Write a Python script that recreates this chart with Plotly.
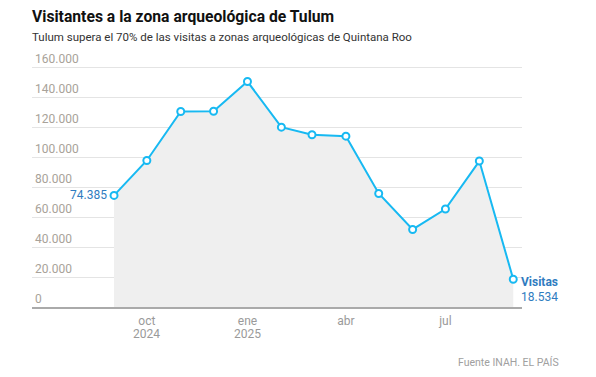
import plotly.graph_objects as go

months = ["2024-09-01", "2024-10-01", "2024-11-01", "2024-12-01", "2025-01-01",
          "2025-02-01", "2025-03-01", "2025-04-01", "2025-05-01", "2025-06-01",
          "2025-07-01", "2025-08-01", "2025-09-01"]
visitas = [74385, 97700, 130300, 130500, 150300, 119900, 114800, 113900,
           75700, 51700, 65300, 97300, 18534]
tick_vals = ["2024-10-01", "2025-01-01", "2025-04-01", "2025-07-01"]
tick_text = ["oct", "ene", "abr", "jul"]
year_vals = ["2024-10-01", "2025-01-01"]
year_text = ["2024", "2025"]
y_ticks = [0, 20000, 40000, 60000, 80000, 100000, 120000, 140000, 160000]

FONT = "Roboto, Arial, sans-serif"
LINE = "#17b9f2"
BLUE = "#2f7cc0"
GRAY = "#9a9a9a"

fig = go.Figure()
fig.add_trace(go.Scatter(
    x=months, y=visitas, mode="lines+markers",
    line=dict(color=LINE, width=2),
    marker=dict(size=7, color="white", line=dict(color=LINE, width=2)),
    fill="tozeroy", fillcolor="#efefef",
    hoverinfo="skip", showlegend=False,
))

fig.add_annotation(x=months[0], y=visitas[0], text=f"{visitas[0]:,}".replace(",", "."),
                   xanchor="right", yanchor="middle", xshift=-5, showarrow=False,
                   font=dict(family=FONT, size=12, color=BLUE))
fig.add_annotation(x=months[-1], y=visitas[-1], text="<b>Visitas</b>",
                   xanchor="left", yanchor="middle", xshift=6, yshift=-3, showarrow=False,
                   font=dict(family=FONT, size=12, color=BLUE))
fig.add_annotation(x=months[-1], y=visitas[-1], text=f"{visitas[-1]:,}".replace(",", "."),
                   xanchor="left", yanchor="middle", xshift=6, yshift=-18, showarrow=False,
                   font=dict(family=FONT, size=12, color=BLUE))

for xv, yt in zip(year_vals, year_text):
    fig.add_annotation(x=xv, xref="x", yref="paper", y=0, text=yt,
                       xanchor="center", yanchor="middle", yshift=-27, showarrow=False,
                       font=dict(family=FONT, size=12, color=GRAY))

fig.add_annotation(xref="paper", yref="paper", x=0.0, y=1.0,
                   text="<b>Visitantes a la zona arqueológica de Tulum</b>",
                   xanchor="left", yanchor="middle", showarrow=False, xshift=-2, yshift=27,
                   font=dict(family=FONT, size=15.7, color="#111"))
fig.add_annotation(xref="paper", yref="paper", x=0.0, y=1.0,
                   text="Tulum supera el 70% de las visitas a zonas arqueológicas de Quintana Roo",
                   xanchor="left", yanchor="middle", showarrow=False, xshift=-2, yshift=6,
                   font=dict(family=FONT, size=11.5, color="#333"))
fig.add_annotation(xref="paper", yref="paper", x=1.0, y=0, text="Fuente INAH. EL PAÍS",
                   xanchor="right", yanchor="middle", showarrow=False, xshift=39, yshift=-55,
                   font=dict(family=FONT, size=10.5, color="#a0a0a0"))

# page body has an 8px margin: figure placed at (8, 8)
fig.update_layout(
    width=580, height=361,
    margin=dict(l=24, r=66, t=35, b=62, autoexpand=False),
    paper_bgcolor="white", plot_bgcolor="white",
    separators=",.",
    font=dict(family=FONT),
    xaxis=dict(
        type="date", range=["2024-06-18", "2025-09-09"],
        tickvals=tick_vals, ticktext=tick_text, automargin=False,
        showgrid=False, showline=True, linecolor="#aaaaaa", linewidth=2,
        ticks="", tickfont=dict(family=FONT, size=12, color=GRAY),
        ticklabelstandoff=2,
        zeroline=False, fixedrange=True,
    ),
    yaxis=dict(
        range=[0, 176000], tickvals=y_ticks, tickformat=",d", automargin=False,
        showgrid=True, gridcolor="#e4e4e4", gridwidth=1,
        zeroline=False, showline=False, ticks="",
        ticklabelposition="inside top",
        tickfont=dict(family=FONT, size=12, color="#a8a299"),
        fixedrange=True,
    ),
)

fig.write_html("out.html")
